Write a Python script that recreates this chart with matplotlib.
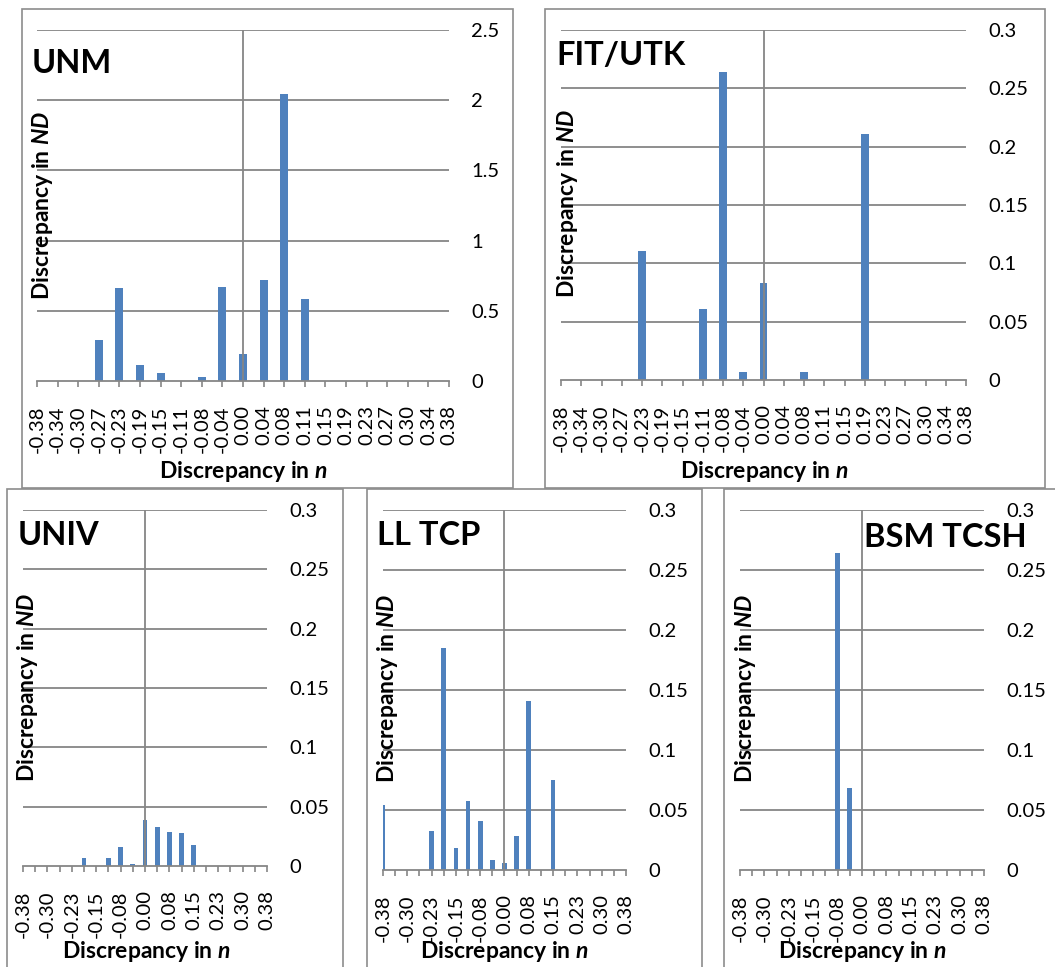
import matplotlib
matplotlib.use("Agg")
import matplotlib.pyplot as plt
from matplotlib.patches import Rectangle

plt.rcParams['font.family'] = ['Lato', 'DejaVu Sans']
plt.rcParams['mathtext.fontset'] = 'custom'
plt.rcParams['mathtext.rm'] = 'Lato:bold'
plt.rcParams['mathtext.bf'] = 'Lato:bold'
plt.rcParams['mathtext.it'] = 'Lato:bold:italic'

# ---------------- data ----------------
categories = ['-0.38', '-0.34', '-0.30', '-0.27', '-0.23', '-0.19', '-0.15',
              '-0.11', '-0.08', '-0.04', '0.00', '0.04', '0.08', '0.11',
              '0.15', '0.19', '0.23', '0.27', '0.30', '0.34', '0.38']

unm = [0, 0, 0, 0.29, 0.66, 0.114, 0.057, 0, 0.028, 0.67, 0.195,
       0.717, 2.044, 0.584, 0, 0, 0, 0, 0, 0, 0]
fit_utk = [0, 0, 0, 0, 0.111, 0, 0, 0.0606, 0.264, 0.0071, 0.0835,
           0, 0.0066, 0, 0, 0.211, 0, 0, 0, 0, 0]
univ = [0, 0, 0, 0, 0, 0.0065, 0, 0.0067, 0.0157, 0.002, 0.039,
        0.0326, 0.0284, 0.0278, 0.018, 0, 0, 0, 0, 0, 0]
ll_tcp = [0.054, 0, 0, 0, 0.0328, 0.185, 0.0186, 0.0575, 0.0406, 0.0086,
          0.0058, 0.0284, 0.141, 0, 0.0748, 0, 0, 0, 0, 0, 0]
bsm_tcsh = [0, 0, 0, 0, 0, 0, 0, 0, 0.264, 0.0687, 0,
            0, 0, 0, 0, 0, 0, 0, 0, 0, 0]

titles = ['UNM', 'FIT/UTK', 'UNIV', 'LL TCP', 'BSM TCSH']
yticks_big = [0, 0.5, 1, 1.5, 2, 2.5]
yticklabels_big = ['0', '0.5', '1', '1.5', '2', '2.5']
yticks_small = [0, 0.05, 0.1, 0.15, 0.2, 0.25, 0.3]
yticklabels_small = ['0', '0.05', '0.1', '0.15', '0.2', '0.25', '0.3']

# ---------------- layout ----------------
W, H = 1055, 967
fig = plt.figure(figsize=(W / 100, H / 100), dpi=100)

BAR = '#4F81BD'
GRID = '#868686'
FRAME = '#8c8c8c'


def fx(x):
    return x / W


def fy(y):
    return 1 - y / H


# panel frames (pixel coords, top-origin)
frames = [(22, 9, 513, 488), (545, 9, 1045, 488),
          (7, 489, 343, 1000), (367, 489, 702, 1000), (724, 489, 1100, 1000)]
for (x0, y0, x1, y1) in frames:
    fig.patches.append(Rectangle((fx(x0), fy(y1)), fx(x1 - x0), (y1 - y0) / H,
                                 transform=fig.transFigure, fill=False,
                                 edgecolor=FRAME, linewidth=1.2, clip_on=False))

panels = [
    dict(data=unm, box=(37, 30, 449, 381), yt=yticks_big, ytl=yticklabels_big,
         title_xy=(32, 73), title_ha='left', ylab_xy=(43, 205), xlab_xy=(243, 478), every=1),
    dict(data=fit_utk, box=(561, 30, 966, 380), yt=yticks_small, ytl=yticklabels_small,
         title_xy=(556, 65), title_ha='left', ylab_xy=(567, 203), xlab_xy=(764, 478), every=1),
    dict(data=univ, box=(23, 510, 267, 866), yt=yticks_small, ytl=yticklabels_small,
         title_xy=(18, 545), title_ha='left', ylab_xy=(28, 687), xlab_xy=(146, 958), every=2),
    dict(data=ll_tcp, box=(383, 510, 626, 870), yt=yticks_small, ytl=yticklabels_small,
         title_xy=(377, 545), title_ha='left', ylab_xy=(388, 688), xlab_xy=(504, 958), every=2),
    dict(data=bsm_tcsh, box=(740, 510, 984, 870), yt=yticks_small, ytl=yticklabels_small,
         title_xy=(945, 547), title_ha='center', ylab_xy=(745, 688), xlab_xy=(862, 958), every=2),
]

n = len(categories)
xs = list(range(n))

for p, title in zip(panels, titles):
    x0, y0, x1, y1 = p['box']
    ax = fig.add_axes([fx(x0), fy(y1), (x1 - x0) / W, (y1 - y0) / H])
    ax.set_xlim(0, n - 1)
    ax.set_ylim(p['yt'][0], p['yt'][-1])
    ax.bar(xs, p['data'], width=0.39, color=BAR, edgecolor='none', zorder=3)
    for t in p['yt'][1:]:
        ax.axhline(t, color=GRID, linewidth=1.3, zorder=1)
    ax.axvline(categories.index('0.00'), color=GRID, linewidth=1.3, zorder=4)
    for s in ['top', 'right', 'left']:
        ax.spines[s].set_visible(False)
    ax.spines['bottom'].set_color(GRID)
    ax.spines['bottom'].set_linewidth(1.3)
    ax.spines['bottom'].set_zorder(5)
    ax.set_xticks(xs)
    labels = [c if i % p['every'] == 0 else '' for i, c in enumerate(categories)]
    ax.set_xticklabels(labels, rotation=90, fontsize=14.5)
    ax.tick_params(axis='x', direction='out', length=4.5, width=1.2, color=GRID,
                   pad=13)
    ax.yaxis.tick_right()
    ax.set_yticks(p['yt'])
    ax.set_yticklabels(p['ytl'], fontsize=14.5)
    ax.tick_params(axis='y', length=0, pad=16)
    ax.set_facecolor('none')

    tx, ty = p['title_xy']
    fig.text(fx(tx), fy(ty), title, fontsize=23.5, fontweight='bold',
             ha=p['title_ha'], va='baseline')
    lx, ly = p['ylab_xy']
    fig.text(fx(lx), fy(ly), r'Discrepancy in $\mathit{ND}$', fontsize=16.5,
             fontweight='bold', rotation=90, ha='center', va='center')
    bx, by = p['xlab_xy']
    fig.text(fx(bx), fy(by), r'Discrepancy in $\mathit{n}$', fontsize=16.5,
             fontweight='bold', ha='center', va='baseline')

fig.savefig('out.png', dpi=100)
